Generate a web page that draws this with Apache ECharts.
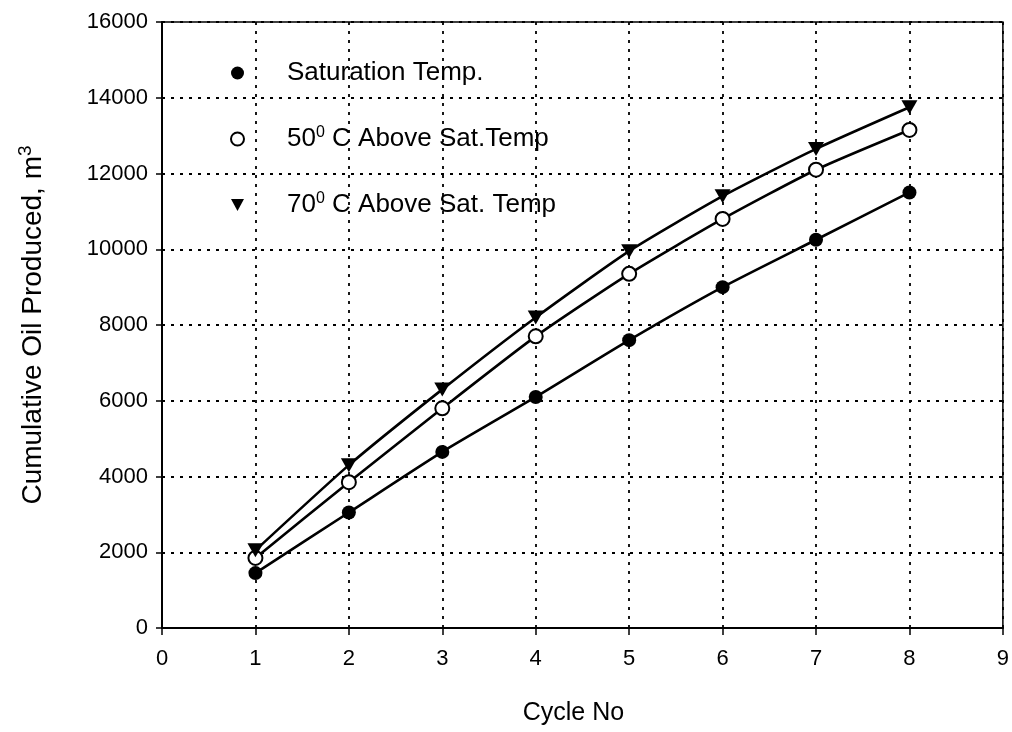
<!DOCTYPE html>
<html>
<head>
<meta charset="utf-8">
<script src="https://cdn.jsdelivr.net/npm/echarts@6/dist/echarts.min.js"></script>
<style>
  html, body { margin: 0; padding: 0; background: #fff; }
  #chart { width: 1012px; height: 732px; }
</style>
</head>
<body>
<div id="chart"></div>
<script>
// Cumulative oil produced per steam cycle, three injection temperatures
const cycles = [1, 2, 3, 4, 5, 6, 7, 8];
const satTemp = [1450, 3050, 4650, 6100, 7600, 9000, 10250, 11500];
const above50 = [1850, 3850, 5800, 7700, 9350, 10800, 12100, 13150];
const above70 = [2050, 4300, 6300, 8200, 9950, 11400, 12650, 13750];

const seriesNames = ['Saturation Temp.', '50⁰ C Above Sat.Temp', '70⁰ C Above Sat. Temp'];
const xTitle = 'Cycle No';
const yTitle = 'Cumulative Oil Produced, m';

const FONT = '"Liberation Sans", Arial, sans-serif';
const downTriangle = 'path://M0,0L12,0L6,11Z';

function pairs(vals) {
  return cycles.map((c, i) => [c, vals[i]]);
}

const chart = echarts.init(document.getElementById('chart'), null, { renderer: 'canvas' });

const dotted = { color: '#000', width: 1.8, type: [3, 6] };

const option = {
  backgroundColor: '#fff',
  animation: false,
  grid: {
    left: 162, right: 5, top: 22, bottom: 104,
    show: true, borderColor: '#000', borderWidth: 1.5, backgroundColor: 'transparent'
  },
  legend: {
    orient: 'vertical',
    left: 225,
    top: 55,
    itemGap: 39,
    itemWidth: 13,
    itemHeight: 13,
    data: [
      { name: seriesNames[0], icon: 'circle' },
      { name: seriesNames[1], icon: 'emptyCircle' },
      { name: seriesNames[2], icon: downTriangle }
    ],
    formatter: function (name) {
      const m = name.match(/^(\d+)⁰(.*)$/);
      if (m) return '{n|' + m[1] + '}{s|0}{n|' + m[2] + '}';
      return '{n|' + name + '}';
    },
    textStyle: {
      padding: [0, 0, 0, 38],
      rich: {
        n: { fontFamily: FONT, fontSize: 26, color: '#000', lineHeight: 28 },
        s: { fontFamily: FONT, fontSize: 16, color: '#000', verticalAlign: 'top', lineHeight: 28 }
      }
    }
  },
  xAxis: {
    type: 'value',
    min: 0, max: 9, interval: 1,
    name: xTitle,
    nameLocation: 'middle',
    nameGap: 73,
    nameTextStyle: { fontFamily: FONT, fontSize: 25, color: '#000', padding: [0, 18, 0, 0] },
    axisLine: { show: true, onZero: false, lineStyle: { color: '#000', width: 2 } },
    axisTick: { show: true, length: 7, lineStyle: { color: '#000', width: 1.5 } },
    axisLabel: { fontFamily: FONT, fontSize: 22, color: '#000', margin: 20 },
    splitLine: { show: true, lineStyle: dotted }
  },
  yAxis: {
    type: 'value',
    min: 0, max: 16000, interval: 2000,
    name: '{t|' + yTitle + '}{s|3}',
    nameLocation: 'middle',
    nameGap: 112,
    nameTextStyle: {
      rich: {
        t: { fontFamily: FONT, fontSize: 28, color: '#000', lineHeight: 34 },
        s: { fontFamily: FONT, fontSize: 19, color: '#000', verticalAlign: 'top', lineHeight: 34 }
      }
    },
    axisLine: { show: true, lineStyle: { color: '#000', width: 2 } },
    axisTick: { show: true, length: 6, lineStyle: { color: '#000', width: 1.5 } },
    axisLabel: {
      fontFamily: FONT, fontSize: 22, color: '#000', margin: 14,
      formatter: function (v) { return String(v); }
    },
    splitLine: { show: true, lineStyle: dotted }
  },
  series: [
    {
      name: seriesNames[0], type: 'line', data: pairs(satTemp),
      smooth: 0.2, symbol: 'circle', symbolSize: 14,
      lineStyle: { color: '#000', width: 2.6 },
      itemStyle: { color: '#000' }
    },
    {
      name: seriesNames[1], type: 'line', data: pairs(above50),
      smooth: 0.2, symbol: 'emptyCircle', symbolSize: 14,
      lineStyle: { color: '#000', width: 2.6 },
      itemStyle: { color: '#000', borderColor: '#000', borderWidth: 1.6 }
    },
    {
      name: seriesNames[2], type: 'line', data: pairs(above70),
      smooth: 0.2, symbol: downTriangle, symbolSize: [16, 14],
      lineStyle: { color: '#000', width: 2.6 },
      itemStyle: { color: '#000' }
    }
  ]
};

chart.setOption(option);
</script>
</body>
</html>
